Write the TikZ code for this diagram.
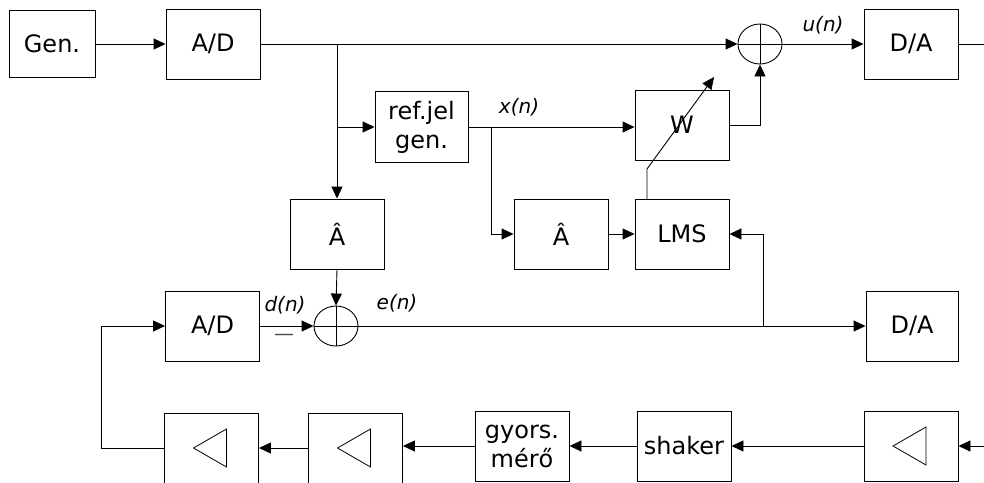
\documentclass[tikz,border=0pt]{standalone}
\usepackage{fontspec}
\setmainfont{DejaVu Sans}
\usetikzlibrary{arrows.meta,shapes.geometric}

\begin{document}
\begin{tikzpicture}[x=1pt,y=-1pt,
  blk/.style={draw,line width=0.9pt,minimum width=94pt,minimum height=70pt,inner sep=0pt,align=center,font=\fontsize{24}{29}\selectfont},
  sum/.style={draw,ellipse,line width=0.9pt,minimum width=44pt,minimum height=40pt,inner sep=0pt},
  sig/.style={inner sep=0pt,font=\fontsize{20}{24}\selectfont\itshape},
  conn/.style={line width=0.9pt},
  arr/.style={conn,-{Triangle[length=12pt,width=11pt]}}]
\clip (0,0) rectangle (984,482);
\node[blk,minimum width=86pt,minimum height=67pt] (gen) at (52,44) {Gen.};
\node[blk] (adtop) at (213,44) {A/D};
\node[sum] (sumtop) at (760,44) {};
\node[blk] (daout) at (911,44) {D/A};
\node[blk,minimum width=93pt,minimum height=71pt] (refgen) at (421.5,127) {ref.jel\\gen.};
\node[blk] (wfilt) at (682,125) {W};
\node[blk] (ahat) at (337,234) {Â};
\node[blk] (ahatb) at (561,234) {Â};
\node[blk] (lms) at (682,234) {LMS};
\node[blk] (adbot) at (212.5,326) {A/D};
\node[sum] (sumbot) at (336,326) {};
\node[blk,minimum width=92pt] (dabot) at (912,326) {D/A};
\node[blk] (amp1) at (211.5,448) {};
\node[blk] (amp2) at (355.5,448) {};
\node[blk] (gyors) at (522,446) {gyors.\\mérő};
\node[blk] (shaker) at (684,446) {shaker};
\node[blk] (amp3) at (911,446) {};
\foreach \a in {amp1,amp2,amp3}{\draw[line width=0.8pt] ([xshift=-18pt]\a.center) -- ++(33,-19) -- ++(0,38) -- cycle;}
\foreach \s in {sumtop,sumbot}{\draw[line width=0.8pt] (\s.north) -- (\s.south) (\s.west) -- (\s.east);}
\node[sig] (xn) at (519,107) {x(n)};
\node[sig] (un) at (823,25) {u(n)};
\node[sig] (dn) at (285,305) {d(n)};
\node[sig] (en) at (397,303) {e(n)};
\node[inner sep=0pt,font=\fontsize{20}{24}\selectfont,text=black!70] (minus) at (284,337) {—};
\coordinate (br1) at (337,44);
\coordinate (br2) at (337,127);
\coordinate (br3) at (491,127);
\coordinate (br4) at (763,326);
\coordinate (adj) at (647,199);
\coordinate (outtop) at (984,44);
\coordinate (inbot) at (984,446);
\coordinate (corner) at (101,448);
\draw[arr] (gen) -- (adtop);
\draw[arr] (adtop.east) -- (sumtop.west);
\draw[arr] (br1) -- (ahat.north);
\draw[arr] (br2) -- (refgen.west);
\draw[arr] (refgen.east) -- (refgen.east -| wfilt.west);
\draw[arr] (br3) |- (ahatb.west);
\draw[arr] (ahatb) -- (lms);
\draw[arr] (wfilt.east) -| (sumtop.south);
\draw[arr] (adj) -- ++(0,-30) -- ++(67,-92);
\draw[arr] (sumtop.east) -- (daout.west);
\draw[conn] (daout.east) -- (outtop);
\draw[arr] (ahat.south) -- (sumbot.north);
\draw[arr] (adbot.east) -- (sumbot.west);
\draw[arr] (sumbot.east) -- (dabot.west);
\draw[arr] (br4) |- (lms.east);
\draw[arr] (inbot) -- (amp3.east);
\draw[arr] (amp3.west) -- (shaker.east);
\draw[arr] (shaker.west) -- (gyors.east);
\draw[arr] (gyors.west) -- (gyors.west -| amp2.east);
\draw[arr] (amp2.west) -- (amp1.east);
\draw[arr] (amp1.west) -- (corner) |- (adbot.west);
\end{tikzpicture}
\end{document}
